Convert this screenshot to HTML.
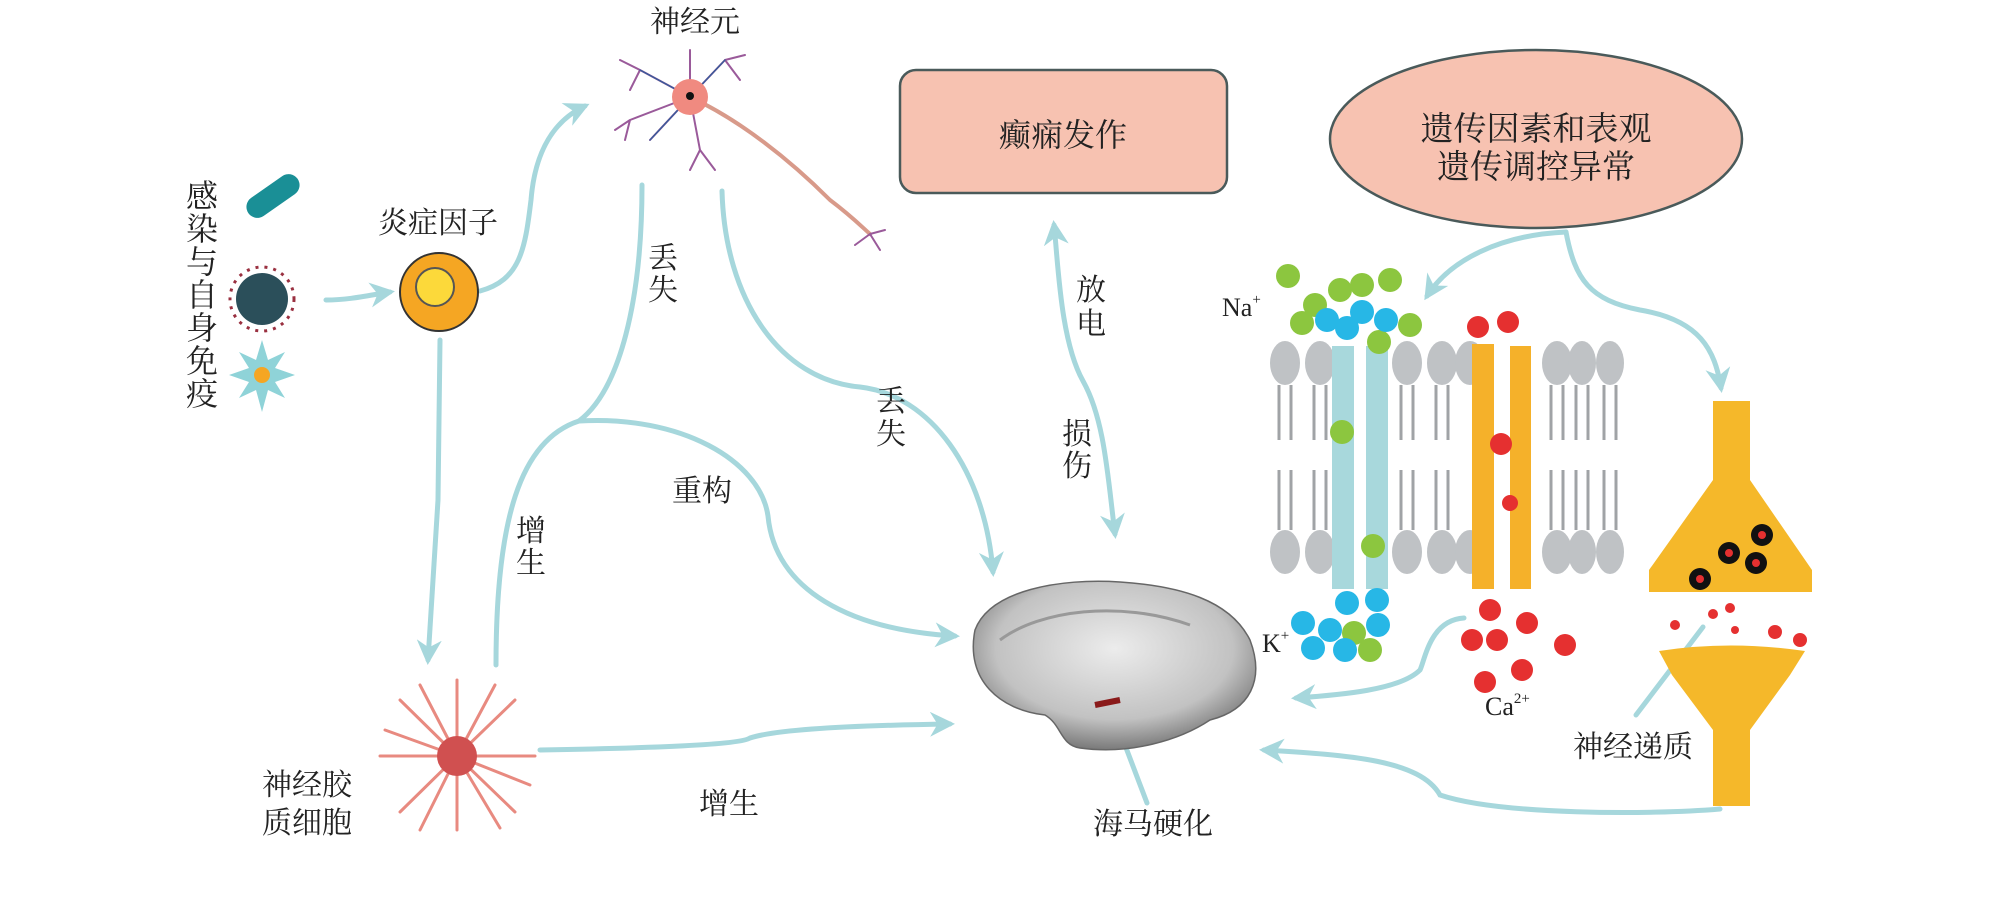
<!DOCTYPE html>
<html><head><meta charset="utf-8"><style>
html,body{margin:0;padding:0;background:#fff;}
svg{display:block;}
text{font-family:"Liberation Serif","Noto Serif CJK SC",serif;fill:#222;}
</style></head><body>
<svg width="2007" height="917" viewBox="0 0 2007 917" xmlns="http://www.w3.org/2000/svg">
<defs>
<marker id="ah" viewBox="0 0 10 10" refX="8" refY="5" markerWidth="5" markerHeight="5" orient="auto-start-reverse">
<path d="M0,0 L10,5 L0,10 L3,5 Z" fill="#a6d7dc"/>
</marker>
<radialGradient id="brain" cx="50%" cy="40%" r="60%"><stop offset="0" stop-color="#ececec"/><stop offset="0.7" stop-color="#c2c2c2"/><stop offset="1" stop-color="#7a7a7a"/></radialGradient>
</defs>
<g fill="none" stroke="#a6d7dc" stroke-width="5" stroke-linecap="round">
<path d="M326,300 C350,300 370,295 390,292" marker-end="url(#ah)"/>
<path d="M480,291 C520,280 525,250 531,200 C535,150 555,120 585,106" marker-end="url(#ah)"/>
<path d="M440,340 L438,500 L428,660" marker-end="url(#ah)"/>
<path d="M642,185 C642,300 620,390 579,421 C520,440 496,520 496,665"/>
<path d="M579,421 C680,415 760,460 768,516 C775,590 850,630 955,636" marker-end="url(#ah)"/>
<path d="M722,191 C725,300 780,380 860,387 C930,395 985,470 993,572" marker-end="url(#ah)"/>
<path d="M540,750 C650,748 740,745 750,738 C780,728 880,725 950,724" marker-end="url(#ah)"/>
<path d="M1054,225 C1058,260 1060,340 1083,381 C1105,420 1108,480 1115,534" marker-start="url(#ah)" marker-end="url(#ah)"/>
<path d="M1566,232 C1500,235 1450,260 1427,296" marker-end="url(#ah)"/>
<path d="M1566,232 C1575,280 1590,300 1640,310 C1700,320 1715,350 1721,388" marker-end="url(#ah)"/>
<path d="M1464,618 C1430,620 1425,660 1420,670 C1400,690 1340,695 1296,698" marker-end="url(#ah)"/>
<path d="M1720,809 C1650,815 1500,815 1440,795 C1420,760 1350,755 1264,750" marker-end="url(#ah)"/>
<path d="M1636,715 L1703,627"/>
<path d="M1109,703 L1147,803"/>
</g>
<!-- neuron -->
<g stroke-linecap="round" fill="none">
<path d="M690,97 C740,120 790,160 830,200 C850,215 860,225 870,234" stroke="#d89a8a" stroke-width="4"/>
<path d="M690,97 L640,70 M690,97 L690,50 M690,97 L725,60 M690,97 L630,120 M690,97 L700,150 M690,97 L650,140 M640,70 L620,60 M640,70 L630,90 M725,60 L745,55 M725,60 L740,80 M630,120 L615,130 M630,120 L625,140 M700,150 L690,170 M700,150 L715,170 M870,234 L880,250 M870,234 L855,245 M870,234 L885,230" stroke="#9a5a9a" stroke-width="2"/>
<path d="M690,97 L640,70 M690,97 L725,60 M690,97 L650,140" stroke="#3a5a9a" stroke-width="1.5"/>
</g>
<circle cx="690" cy="97" r="18" fill="#f08a80"/><circle cx="690" cy="96" r="4" fill="#111"/>
<circle cx="439" cy="292" r="39" fill="#f5a623" stroke="#333" stroke-width="2"/>
<circle cx="435" cy="287" r="19" fill="#fcd93a" stroke="#555" stroke-width="2"/>
<g>
<rect x="243" y="185" width="60" height="22" rx="11" fill="#1a8f96" transform="rotate(-35 273 196)"/>
<circle cx="262" cy="299" r="26" fill="#2b4f5a"/>
<circle cx="262" cy="299" r="32" fill="none" stroke="#9a3040" stroke-width="3" stroke-dasharray="3 6"/>
<polygon points="262,340 268,360 285,352 275,368 295,375 275,382 285,398 268,390 262,412 256,390 239,398 249,382 229,375 249,368 239,352 256,360" fill="#8fd3d8"/>
<circle cx="262" cy="375" r="8" fill="#f5a623"/>
</g>
<g stroke="#e88a80" stroke-width="3" fill="none" stroke-linecap="round">
<path d="M457,756 L457,680 M457,756 L457,830 M457,756 L380,756 M457,756 L535,756 M457,756 L400,700 M457,756 L515,700 M457,756 L400,812 M457,756 L515,812 M457,756 L420,685 M457,756 L495,685 M457,756 L385,730 M457,756 L530,785 M457,756 L420,830 M457,756 L500,828"/>
</g>
<circle cx="457" cy="756" r="20" fill="#d05050"/>
<rect x="900" y="70" width="327" height="123" rx="16" fill="#f7c2b1" stroke="#4a5a5a" stroke-width="2.5"/>
<text x="1063" y="146" font-size="32" text-anchor="middle">癫痫发作</text>
<ellipse cx="1536" cy="139" rx="206" ry="89" fill="#f7c2b1" stroke="#4a5a5a" stroke-width="2.5"/>
<text x="1536" y="140" font-size="33" text-anchor="middle">遗传因素和表观</text>
<text x="1536" y="178" font-size="33" text-anchor="middle">遗传调控异常</text>
<g fill="#bfc2c5">
<ellipse cx="1285" cy="363" rx="15" ry="22"/><ellipse cx="1320" cy="363" rx="15" ry="22"/><ellipse cx="1407" cy="363" rx="15" ry="22"/><ellipse cx="1442" cy="363" rx="15" ry="22"/><ellipse cx="1470" cy="363" rx="15" ry="22"/><ellipse cx="1557" cy="363" rx="15" ry="22"/><ellipse cx="1582" cy="363" rx="14" ry="22"/><ellipse cx="1610" cy="363" rx="14" ry="22"/>
<ellipse cx="1285" cy="552" rx="15" ry="22"/><ellipse cx="1320" cy="552" rx="15" ry="22"/><ellipse cx="1407" cy="552" rx="15" ry="22"/><ellipse cx="1442" cy="552" rx="15" ry="22"/><ellipse cx="1470" cy="552" rx="15" ry="22"/><ellipse cx="1557" cy="552" rx="15" ry="22"/><ellipse cx="1582" cy="552" rx="14" ry="22"/><ellipse cx="1610" cy="552" rx="14" ry="22"/>
</g>
<g stroke="#a0a3a6" stroke-width="3" fill="none">
<path d="M1279,385 V440 M1291,385 V440 M1314,385 V440 M1326,385 V440 M1401,385 V440 M1413,385 V440 M1436,385 V440 M1448,385 V440 M1551,385 V440 M1563,385 V440 M1576,385 V440 M1588,385 V440 M1604,385 V440 M1616,385 V440"/>
<path d="M1279,470 V530 M1291,470 V530 M1314,470 V530 M1326,470 V530 M1401,470 V530 M1413,470 V530 M1436,470 V530 M1448,470 V530 M1551,470 V530 M1563,470 V530 M1576,470 V530 M1588,470 V530 M1604,470 V530 M1616,470 V530"/>
</g>
<rect x="1332" y="346" width="22" height="243" fill="#a8d8dc"/>
<rect x="1366" y="346" width="22" height="243" fill="#a8d8dc"/>
<rect x="1472" y="344" width="22" height="245" fill="#f5b12a"/>
<rect x="1510" y="346" width="21" height="243" fill="#f5b12a"/>
<g fill="#8cc63f">
<circle cx="1288" cy="276" r="12"/><circle cx="1315" cy="305" r="12"/><circle cx="1340" cy="290" r="12"/><circle cx="1362" cy="285" r="12"/><circle cx="1390" cy="280" r="12"/><circle cx="1302" cy="323" r="12"/><circle cx="1410" cy="325" r="12"/><circle cx="1379" cy="342" r="12"/><circle cx="1342" cy="432" r="12"/><circle cx="1373" cy="546" r="12"/><circle cx="1354" cy="633" r="12"/><circle cx="1370" cy="650" r="12"/>
</g>
<g fill="#27b7e6">
<circle cx="1327" cy="320" r="12"/><circle cx="1347" cy="328" r="12"/><circle cx="1362" cy="312" r="12"/><circle cx="1386" cy="320" r="12"/><circle cx="1347" cy="603" r="12"/><circle cx="1377" cy="600" r="12"/><circle cx="1303" cy="623" r="12"/><circle cx="1330" cy="630" r="12"/><circle cx="1378" cy="625" r="12"/><circle cx="1313" cy="648" r="12"/><circle cx="1345" cy="650" r="12"/>
</g>
<g fill="#e53030">
<circle cx="1478" cy="327" r="11"/><circle cx="1508" cy="322" r="11"/><circle cx="1501" cy="444" r="11"/><circle cx="1510" cy="503" r="8"/>
<circle cx="1490" cy="610" r="11"/><circle cx="1527" cy="623" r="11"/><circle cx="1472" cy="640" r="11"/><circle cx="1497" cy="640" r="11"/><circle cx="1565" cy="645" r="11"/><circle cx="1522" cy="670" r="11"/><circle cx="1485" cy="682" r="11"/>
</g>
<text x="1222" y="316" font-size="26">Na<tspan font-size="15" dy="-12">+</tspan></text>
<text x="1262" y="652" font-size="26">K<tspan font-size="15" dy="-12">+</tspan></text>
<text x="1485" y="715" font-size="26">Ca<tspan font-size="15" dy="-12">2+</tspan></text>
<path d="M1713,401 H1750 V480 L1812,570 V592 H1649 V570 L1713,480 Z" fill="#f5b82a"/>
<path d="M1659,651 Q1730,640 1805,651 L1790,675 L1750,730 V806 H1713 V730 L1672,675 Z" fill="#f5b82a"/>
<g fill="#111"><circle cx="1729" cy="553" r="11"/><circle cx="1762" cy="535" r="11"/><circle cx="1756" cy="563" r="11"/><circle cx="1700" cy="579" r="11"/></g>
<g fill="#e53030"><circle cx="1729" cy="553" r="4"/><circle cx="1762" cy="535" r="4"/><circle cx="1756" cy="563" r="4"/><circle cx="1700" cy="579" r="4"/>
<circle cx="1675" cy="625" r="5"/><circle cx="1713" cy="614" r="5"/><circle cx="1730" cy="608" r="5"/><circle cx="1735" cy="630" r="4"/><circle cx="1775" cy="632" r="7"/><circle cx="1800" cy="640" r="7"/></g>
<path d="M975,630 C990,590 1060,578 1120,582 C1180,586 1230,600 1250,640 C1265,680 1250,710 1210,720 C1180,740 1130,755 1080,748 C1060,745 1062,725 1045,715 C1000,710 965,680 975,630 Z" fill="url(#brain)" stroke="#666" stroke-width="1.5"/>
<path d="M1000,640 C1040,610 1120,600 1190,625" fill="none" stroke="#999" stroke-width="3"/>
<path d="M1095,705 L1120,700" stroke="#8a1a1a" stroke-width="6"/>
<g font-size="30">
<text x="695" y="32" text-anchor="middle">神经元</text>
<text x="438" y="233" text-anchor="middle">炎症因子</text>
<g font-size="32">
<text x="202" y="207" text-anchor="middle">感</text><text x="202" y="240" text-anchor="middle">染</text><text x="202" y="273" text-anchor="middle">与</text><text x="202" y="306" text-anchor="middle">自</text><text x="202" y="339" text-anchor="middle">身</text><text x="202" y="372" text-anchor="middle">免</text><text x="202" y="405" text-anchor="middle">疫</text>
</g>
<text x="663" y="268" text-anchor="middle">丢</text><text x="663" y="300" text-anchor="middle">失</text>
<text x="891" y="411" text-anchor="middle">丢</text><text x="891" y="444" text-anchor="middle">失</text>
<text x="702" y="501" text-anchor="middle">重构</text>
<text x="531" y="541" text-anchor="middle">增</text><text x="531" y="573" text-anchor="middle">生</text>
<text x="729" y="814" text-anchor="middle">增生</text>
<text x="307" y="795" text-anchor="middle">神经胶</text><text x="307" y="833" text-anchor="middle">质细胞</text>
<text x="1091" y="300" text-anchor="middle">放</text><text x="1091" y="334" text-anchor="middle">电</text>
<text x="1077" y="444" text-anchor="middle">损</text><text x="1077" y="476" text-anchor="middle">伤</text>
<text x="1153" y="834" text-anchor="middle">海马硬化</text>
<text x="1633" y="757" text-anchor="middle">神经递质</text>
</g>
</svg>
</body></html>
